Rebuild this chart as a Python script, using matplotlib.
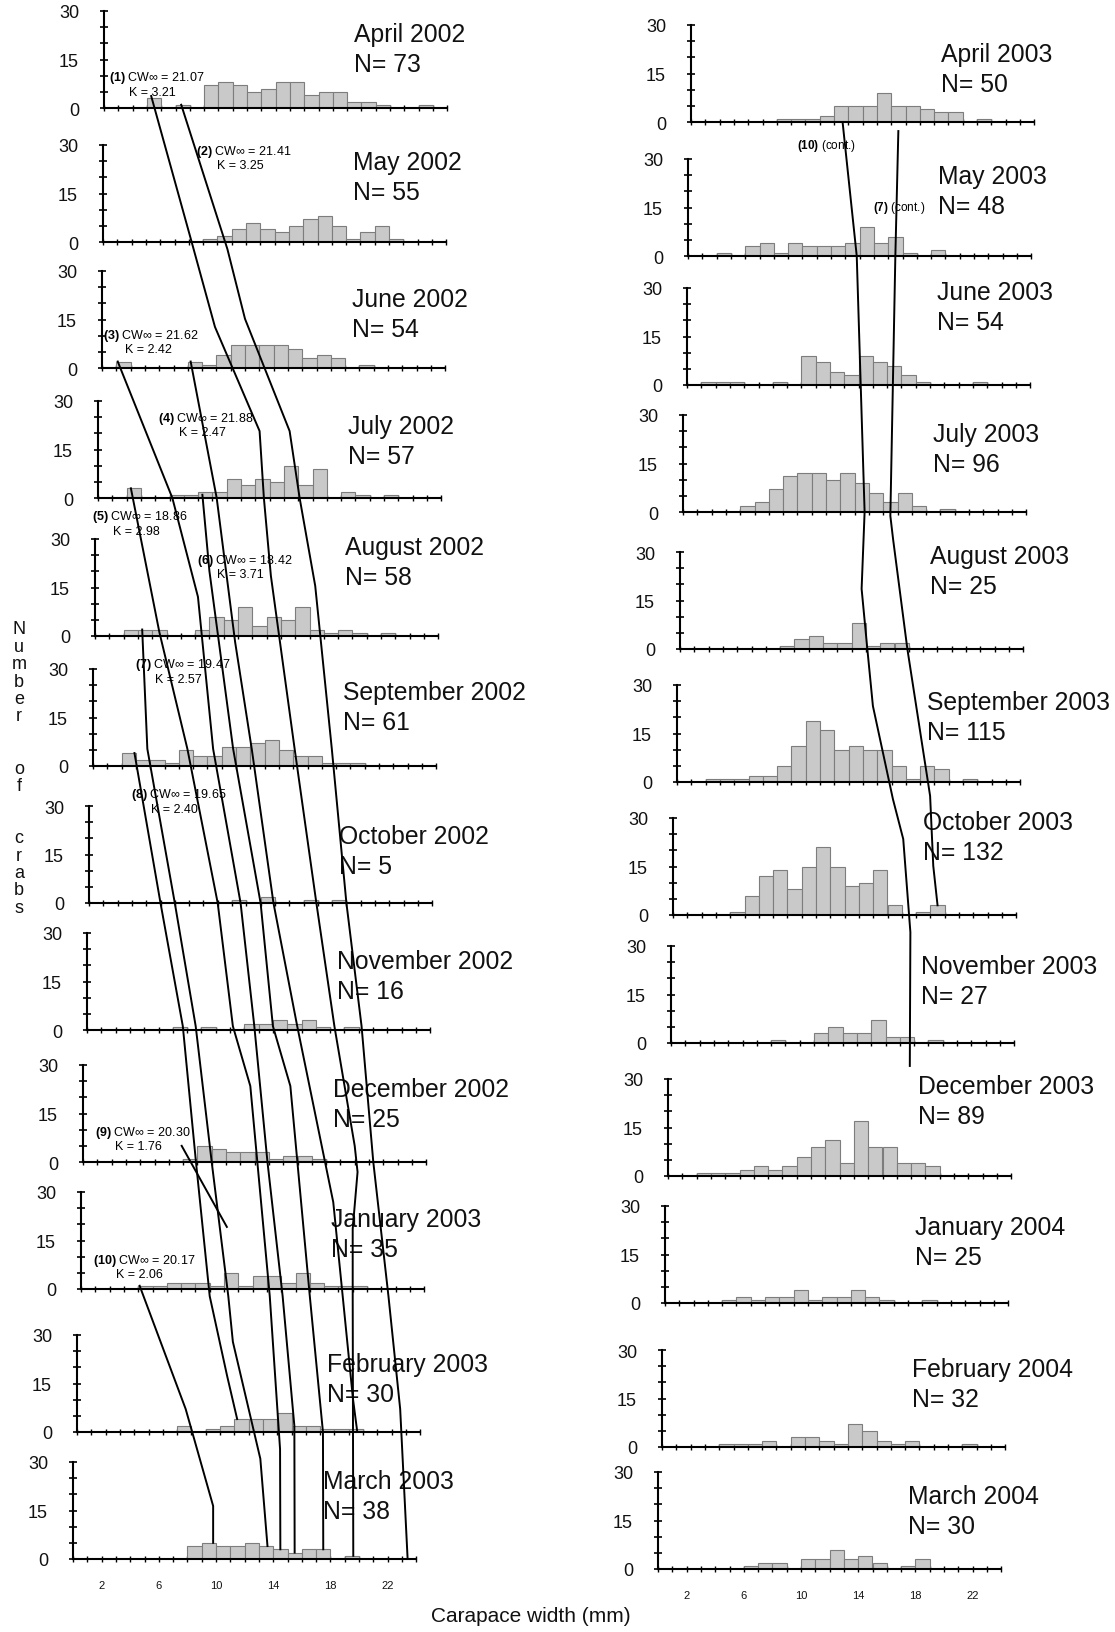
import matplotlib
matplotlib.use('Agg')
import matplotlib.pyplot as plt
from matplotlib.lines import Line2D
import numpy as np

plt.rcParams['font.family'] = ['Liberation Sans', 'DejaVu Sans']
plt.rcParams['mathtext.fontset'] = 'custom'
plt.rcParams['mathtext.rm'] = 'Liberation Sans'
plt.rcParams['mathtext.bf'] = 'Liberation Sans:bold'

# counts per 1 mm carapace-width class (0-1, 1-2, ... 23-24 mm)
apr02 = [0,0,0,3,0,1,0,7,8,7,5,6,8,8,4,5,5,2,2,1,0,0,1,0]
may02 = [0,0,0,0,0,0,0,1,2,4,6,4,3,5,7,8,5,1,3,5,1,0,0,0]
jun02 = [0,2,0,0,0,0,2,1,4,7,7,7,7,6,3,4,3,0,1,0,0,0,0,0]
jul02 = [0,0,3,0,0,1,1,2,2,6,4,6,5,10,4,9,0,2,1,0,1,0,0,0]
aug02 = [0,0,2,2,2,0,0,2,6,5,9,3,6,5,9,2,1,2,1,0,1,0,0,0]
sep02 = [0,0,4,2,2,1,5,3,3,6,6,7,8,5,3,3,1,1,1,0,0,0,0,0]
oct02 = [0,0,0,0,0,0,0,0,0,0,1,0,2,0,0,1,0,1,0,0,0,0,0,0]
nov02 = [0,0,0,0,0,0,1,0,1,0,0,2,2,3,2,3,1,0,1,0,0,0,0,0]
dec02 = [0,0,0,0,0,0,0,1,5,4,3,3,3,1,2,2,1,0,0,0,0,0,0,0]
jan03 = [0,0,0,0,1,1,2,2,2,1,5,1,4,4,2,5,2,1,1,1,0,0,0,0]
feb03 = [0,0,0,0,0,0,0,2,0,1,2,4,4,4,6,2,2,1,1,1,0,0,0,0]
mar03 = [0,0,0,0,0,0,0,0,4,5,4,4,5,4,3,2,3,3,0,1,0,0,0,0]
apr03 = [0,0,0,0,0,0,1,1,1,2,5,5,5,9,5,5,4,3,3,0,1,0,0,0]
may03 = [0,0,1,0,3,4,1,4,3,3,3,4,9,4,6,1,0,2,0,0,0,0,0,0]
jun03 = [0,1,1,1,0,0,1,0,9,7,4,3,9,7,6,3,1,0,0,0,1,0,0,0]
jul03 = [0,0,0,0,2,3,7,11,12,12,10,12,9,6,3,6,2,0,1,0,0,0,0,0]
aug03 = [0,0,0,0,0,0,0,1,3,4,2,2,8,1,2,2,0,0,0,0,0,0,0,0]
sep03 = [0,0,1,1,1,2,2,5,11,19,16,10,11,10,10,5,1,5,4,0,1,0,0,0]
oct03 = [0,0,0,0,1,6,12,14,8,15,21,15,9,10,14,3,0,1,3,0,0,0,0,0]
nov03 = [0,0,0,0,0,0,0,1,0,0,3,5,3,3,7,2,2,0,1,0,0,0,0,0]
dec03 = [0,0,1,1,1,2,3,2,3,6,9,11,4,17,9,9,4,4,3,0,0,0,0,0]
jan04 = [0,0,0,0,1,2,1,2,2,4,1,2,2,4,2,1,0,0,1,0,0,0,0,0]
feb04 = [0,0,0,0,1,1,1,2,0,3,3,2,1,7,5,2,1,2,0,0,0,1,0,0]
mar04 = [0,0,0,0,0,0,1,2,2,0,3,3,6,3,4,2,0,1,3,0,0,0,0,0]

months = ['April 2002', 'May 2002', 'June 2002', 'July 2002', 'August 2002',
          'September 2002', 'October 2002', 'November 2002', 'December 2002',
          'January 2003', 'February 2003', 'March 2003',
          'April 2003', 'May 2003', 'June 2003', 'July 2003', 'August 2003',
          'September 2003', 'October 2003', 'November 2003', 'December 2003',
          'January 2004', 'February 2004', 'March 2004']
n_crabs = [73, 55, 54, 57, 58, 61, 5, 16, 25, 35, 30, 38,
           50, 48, 54, 96, 25, 115, 132, 27, 89, 25, 32, 30]
counts = [apr02, may02, jun02, jul02, aug02, sep02, oct02, nov02, dec02, jan03, feb03, mar03,
          apr03, may03, jun03, jul03, aug03, sep03, oct03, nov03, dec03, jan04, feb04, mar04]

# growth-curve nodes: (panel, carapace width, count level)
line1 = [(0,3.3,3.7),(1,6.2,0),(2,7.9,12.7),(3,11.3,20.7),(3,11.6,0),(4,12.3,18.6),(5,14.1,5.3),
         (6,15.9,0),(7,17.3,1.2),(8,19.0,5),(8,19.2,-3.1),(9,19.0,18.6),(9,19.0,-2.2),(11,19.6,1)]
line2 = [(0,5.4,1),(1,8.7,-2.2),(2,10.0,15.2),(3,13.4,20.7),(3,14.1,0),(4,15.4,15.5),(5,16.7,5.3),
         (6,18.0,0),(7,19.2,1.2),(8,20.3,0),(9,21.5,-2.2),(10,22.6,7.1),(11,23.4,0)]
line3 = [(2,1.1,2),(3,5.2,0),(4,7.2,12.1),(5,8.4,5.3),(6,10.6,0),(7,11.7,1.2),(8,12.9,0),
         (9,14.1,-2.2),(10,15.2,1.9),(11,15.5,2)]
line4 = [(2,6.2,2),(3,8.3,0),(4,9.8,-1.9),(5,11.1,5.3),(6,12.9,0),(7,14.7,1.2),(8,17.5,-12.4),
         (9,18.3,-2.2),(10,19.3,10.2),(10,19.6,0)]
line5 = [(3,2.3,3),(4,4.5,1.2),(5,6.6,5.3),(6,9.0,0),(7,10.2,1.2),(8,11.7,23.5),(9,13.2,-2.2),
         (10,14.2,-5.3),(11,14.5,3)]
line6 = [(3,7.3,1),(4,8.0,20.1),(5,9.8,5.3),(6,12.0,0),(7,13.0,1.2),(8,14.5,23.5),(9,16.0,-2.2),
         (10,17.2,0),(11,17.5,3)]
line7 = [(4,3.3,2),(5,3.8,5.3),(6,6.0,0),(7,7.6,1.2),(8,9.0,0),(9,10.3,-2.2),(10,10.9,27.9),
         (11,13.1,31),(11,13.6,4)]
line8 = [(5,2.9,4),(6,5.0,0),(7,6.7,1.2),(8,7.9,0),(9,9.0,-2.2),(10,10.5,17.3),(10,11.2,4)]
line9 = [(8,6.9,5),(9,10.2,19.2)]
line10 = [(9,4.1,1),(10,7.6,7.1),(11,9.8,16.4),(11,9.8,5)]
line10_cont = [(12,10.6,0),(13,11.8,0),(15,12.7,0),(16,12.7,18.6),(16,13.1,0),(17,13.7,23.5),
               (17,15.1,-5.3),(18,16.1,23.5),(18,16.6,-5.3),(19,16.7,-7.1)]
line7_cont = [(12,14.5,-2.8),(13,14.5,0),(15,14.5,-1.2),(16,14.9,34),(16,15.9,0),(17,17.7,-4.3),
              (18,18.2,15.2),(18,18.5,3)]
growth_lines = [line1, line2, line3, line4, line5, line6, line7, line8, line9, line10,
                line10_cont, line7_cont]

cohorts = ['(1)', '(2)', '(3)', '(4)', '(5)', '(6)', '(7)', '(8)', '(9)', '(10)']
cw_inf = [21.07, 21.41, 21.62, 21.88, 18.86, 18.42, 19.47, 19.65, 20.30, 20.17]
k_val = [3.21, 3.25, 2.42, 2.47, 2.98, 3.71, 2.57, 2.40, 1.76, 2.06]

# layout (reference pixel positions of each panel's origin)
W, H = 1115, 1633
PX_MM = 14.3
x0_px = [104,103,102,98,95,93,89,87,83,81,77,73,
         691,688,687,683,680,677,673,671,668,665,662,658]
base_px = [109,243,369,499,637,767,904,1031,1163,1290,1433,1560,
           123,257,386,513,650,783,916,1044,1177,1304,1448,1570]
title_y = [22.9,24.8,21.4,22.3,27.6,22.9,20.7,21.4,22.6,21.7,21.0,24.1,
           21.0,24.8,28.8,24.1,28.8,24.8,28.8,23.8,27.9,23.5,24.1,22.6]
# label panel, (x, y) of first line, (x, y) of K line
cw_pos = [(0,3.67,9.6,3.39,5.0), (1,9.86,28.2,9.58,23.8), (2,3.43,10.2,3.22,5.9),
          (3,7.5,24.8,7.27,20.4), (4,3.1,37.2,2.87,32.5), (4,10.5,23.5,10.2,19.2),
          (5,6.26,31.6,6.0,27.0), (6,6.3,33.7,6.0,29.1), (8,4.16,9.3,3.9,5.0),
          (9,4.4,9.0,4.1,4.6)]

fig = plt.figure(figsize=(W / 100, H / 100), dpi=100)
axes = []
bins = np.arange(24)
for p in range(24):
    ax = fig.add_axes([x0_px[p] / W, 1 - base_px[p] / H, 24 * PX_MM / W, 97 / H])
    axes.append(ax)
    c = np.array(counts[p])
    nz = c > 0
    ax.bar(bins[nz], c[nz], width=1, align='edge', color='#c9c9c9',
           edgecolor='#7d7d7d', linewidth=0.8, zorder=2)
    ax.set_xlim(0, 24)
    ax.set_ylim(0, 30)
    for s in ['top', 'right']:
        ax.spines[s].set_visible(False)
    for s in ['left', 'bottom']:
        ax.spines[s].set_linewidth(1.5)
        ax.spines[s].set_zorder(3)
    ax.patch.set_visible(False)
    ax.set_yticks([0, 15, 30])
    ax.set_yticks([5, 10, 20, 25], minor=True)
    ax.set_yticklabels(['0', '15', '30'])
    ax.set_xticks(range(25))
    ax.tick_params(axis='y', which='both', direction='inout', length=6, width=1.2,
                   pad=15, labelsize=13, labelcolor='#111111')
    ax.tick_params(axis='x', which='both', direction='inout', length=4, width=1.0,
                   pad=13, labelsize=8, labelcolor='#111111')
    if p in (11, 23):
        ax.set_xticklabels([str(i) if i in (2, 6, 10, 14, 18, 22) else '' for i in range(25)])
    else:
        ax.tick_params(axis='x', labelbottom=False)
    ax.text(17.5, title_y[p], months[p], fontsize=17.8, va='center', ha='left',
            color='#111111', clip_on=False)
    ax.text(17.5, title_y[p] - 9.2, 'N= %d' % n_crabs[p], fontsize=17.8, va='center',
            ha='left', color='#111111', clip_on=False)


def to_fig(p, x, y):
    d = axes[p].transData.transform((x, y))
    return fig.transFigure.inverted().transform(d)


for ln in growth_lines:
    pts = np.array([to_fig(p, x, y) for p, x, y in ln])
    fig.add_artist(Line2D(pts[:, 0], pts[:, 1], color='black', lw=1.4,
                          transform=fig.transFigure, zorder=5))

for i, (p, x1, y1, x2, y2) in enumerate(cw_pos):
    axes[p].text(x1, y1, r'$\mathbf{%s}$ CW∞ = %.2f' % (cohorts[i], cw_inf[i]),
                 fontsize=9, ha='center', va='center', clip_on=False, zorder=6)
    axes[p].text(x2, y2, 'K = %.2f' % k_val[i], fontsize=9, ha='center',
                 va='center', clip_on=False, zorder=6)

axes[12].text(9.5, -7.1, r'$\mathbf{(10)}$ (cont.)', fontsize=8.5, ha='center',
              va='center', clip_on=False)
axes[13].text(14.75, 15.2, r'$\mathbf{(7)}$ (cont.)', fontsize=8.5, ha='center',
              va='center', clip_on=False)

# stacked y label
ylab = list('Number') + ['', ''] + list('of') + ['', ''] + list('crabs')
for i, ch in enumerate(ylab):
    if ch:
        fig.text(19 / W, 1 - (630 + 17.4 * i) / H, ch, ha='center', va='center',
                 fontsize=13, color='#111111')

fig.text(531 / W, 1 - 1617 / H, 'Carapace width (mm)', ha='center', va='center',
         fontsize=15, color='#111111')

fig.savefig('out.png', dpi=100, facecolor='white')
